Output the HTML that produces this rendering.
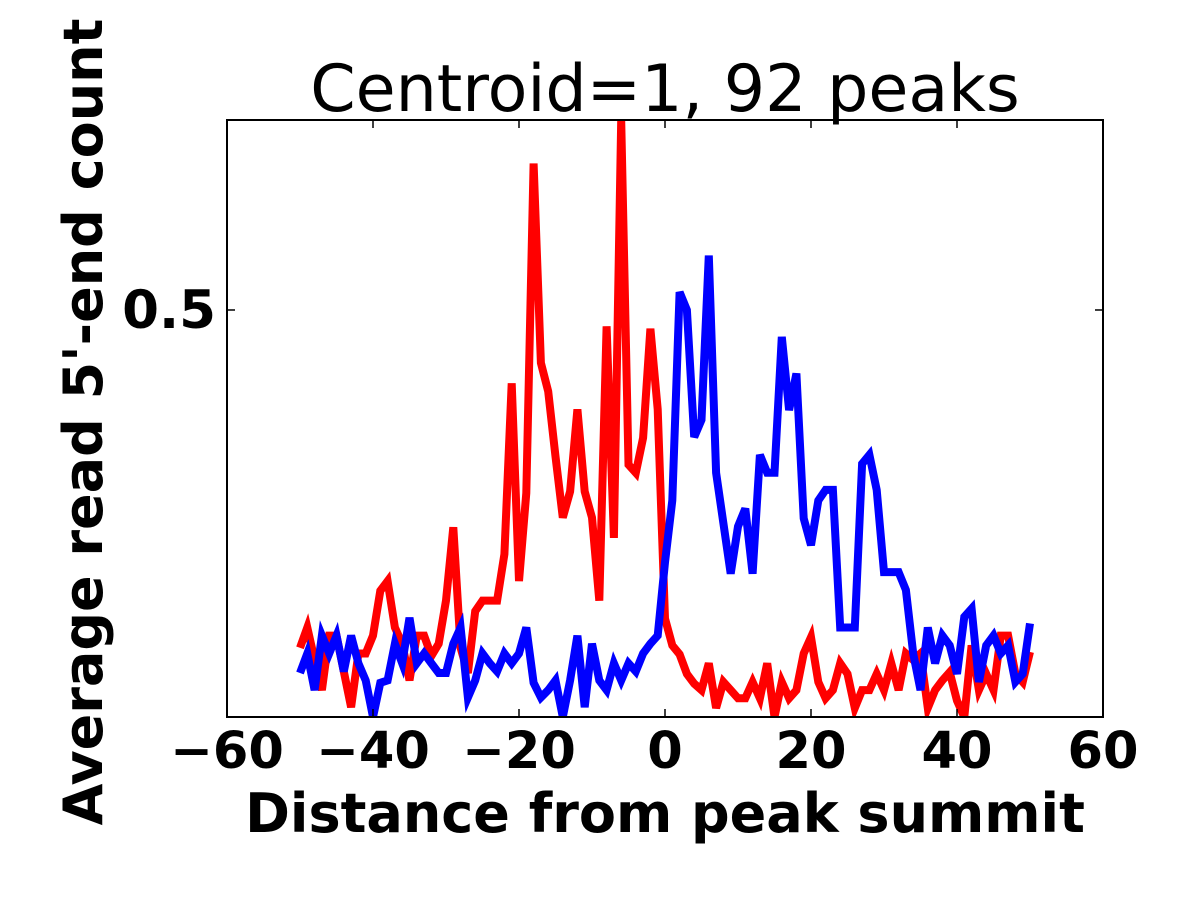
<!DOCTYPE html>
<html><head><meta charset="utf-8"><style>
html,body{margin:0;padding:0;background:#fff;}
svg text{font-family:"DejaVu Sans","Liberation Sans",sans-serif;}
</style></head><body>
<svg width="1200" height="900" viewBox="0 0 1200 900" xmlns="http://www.w3.org/2000/svg">
<g id="marks"></g>
<g id="axes"></g>
<text x="665" y="111" text-anchor="middle" font-size="65" fill="#000">Centroid=1, 92 peaks</text>
<text x="665" y="832" text-anchor="middle" font-size="54" font-weight="bold" fill="#000">Distance from peak summit</text>
<text x="0" y="0" transform="translate(102,422) rotate(-90)" text-anchor="middle" font-size="54" font-weight="bold" fill="#000">Average read 5'-end count</text>
</svg>
<script>
const xTicks = [-60,-40,-20,0,20,40,60];
const xTickLabels = ["\u221260","\u221240","\u221220","0","20","40","60"];
const yTicks = [0.5];
const yTickLabels = ["0.5"];
const xStart = -50;
const redValues = [0.085,0.11,0.07,0.033,0.10,0.10,0.056,0.012,0.078,0.078,0.10,0.155,0.167,0.11,0.09,0.045,0.10,0.10,0.075,0.09,0.143,0.233,0.085,0.054,0.13,0.143,0.143,0.143,0.2,0.41,0.167,0.275,0.68,0.435,0.40,0.32,0.245,0.277,0.378,0.277,0.245,0.143,0.48,0.22,0.733,0.31,0.30,0.343,0.477,0.378,0.121,0.088,0.077,0.053,0.041,0.033,0.066,0.011,0.043,0.033,0.023,0.023,0.043,0.023,0.066,0.0,0.043,0.023,0.033,0.078,0.098,0.043,0.023,0.033,0.066,0.053,0.011,0.033,0.033,0.053,0.033,0.066,0.033,0.078,0.07,0.078,0.011,0.033,0.045,0.055,0.02,0.0,0.088,0.033,0.053,0.033,0.1,0.1,0.053,0.043,0.08];
const blueValues = [0.054,0.078,0.033,0.10,0.078,0.10,0.056,0.10,0.066,0.045,0.0,0.042,0.045,0.09,0.066,0.122,0.066,0.078,0.066,0.054,0.054,0.09,0.11,0.024,0.045,0.078,0.066,0.056,0.078,0.066,0.078,0.11,0.042,0.024,0.033,0.045,0.0,0.045,0.10,0.012,0.09,0.045,0.033,0.066,0.045,0.066,0.056,0.078,0.09,0.10,0.19,0.266,0.522,0.5,0.344,0.365,0.567,0.30,0.238,0.176,0.234,0.256,0.176,0.322,0.30,0.30,0.467,0.377,0.422,0.244,0.211,0.266,0.279,0.279,0.11,0.11,0.11,0.311,0.322,0.279,0.178,0.178,0.178,0.156,0.078,0.033,0.11,0.066,0.1,0.088,0.053,0.123,0.133,0.043,0.088,0.1,0.078,0.088,0.043,0.053,0.115];
const X0=227,X1=1103,Y0=717,Y1=120, XMIN=-60,XMAX=60,YMIN=0,YMAX=0.7334;
const NS="http://www.w3.org/2000/svg";
function xs(v){return X0+(v-XMIN)/(XMAX-XMIN)*(X1-X0);}
function ys(v){return Y0-(v-YMIN)/(YMAX-YMIN)*(Y0-Y1);}
const marks=document.getElementById('marks');
const axes=document.getElementById('axes');
const cp=document.createElementNS(NS,'clipPath');cp.setAttribute('id','clip');
const cr=document.createElementNS(NS,'rect');cr.setAttribute('x',X0);cr.setAttribute('y',Y1);cr.setAttribute('width',X1-X0);cr.setAttribute('height',Y0-Y1);
cp.appendChild(cr);marks.appendChild(cp);
function line(vals,color,name){
  const p=document.createElementNS(NS,'polyline');
  p.setAttribute('points',vals.map((v,i)=>xs(xStart+i).toFixed(1)+','+ys(v).toFixed(1)).join(' '));
  p.setAttribute('fill','none');p.setAttribute('stroke',color);p.setAttribute('stroke-width','8');
  p.setAttribute('stroke-linejoin','miter');p.setAttribute('clip-path','url(#clip)');
  
  
  marks.appendChild(p);
}
line(redValues,'#ff0000','red-series-line');
line(blueValues,'#0000ff','blue-series-line');
const fr=document.createElementNS(NS,'rect');
fr.setAttribute('x',X0);fr.setAttribute('y',Y1);fr.setAttribute('width',X1-X0);fr.setAttribute('height',Y0-Y1);
fr.setAttribute('fill','none');fr.setAttribute('stroke','#000');fr.setAttribute('stroke-width','2');


axes.appendChild(fr);
function seg(x1,y1,x2,y2){const l=document.createElementNS(NS,'line');l.setAttribute('x1',x1);l.setAttribute('y1',y1);l.setAttribute('x2',x2);l.setAttribute('y2',y2);l.setAttribute('stroke','#000');l.setAttribute('stroke-width','1.5');


axes.appendChild(l);}
xTicks.forEach((t,i)=>{
  const x=xs(t);seg(x,Y0,x,Y0-8);seg(x,Y1,x,Y1+8);
  const tx=document.createElementNS(NS,'text');tx.setAttribute('x',x);tx.setAttribute('y',768);
  tx.setAttribute('text-anchor','middle');tx.setAttribute('font-size','51');tx.setAttribute('font-weight','bold');
  tx.textContent=xTickLabels[i];
  
  
  axes.appendChild(tx);
});
yTicks.forEach((t,i)=>{
  const y=ys(t);seg(X0,y,X0+8,y);seg(X1,y,X1-8,y);
  const tx=document.createElementNS(NS,'text');tx.setAttribute('x',216);tx.setAttribute('y',y+18);
  tx.setAttribute('text-anchor','end');tx.setAttribute('font-size','53');tx.setAttribute('font-weight','bold');
  tx.textContent=yTickLabels[i];
  
  
  axes.appendChild(tx);
});
</script>
</body></html>
